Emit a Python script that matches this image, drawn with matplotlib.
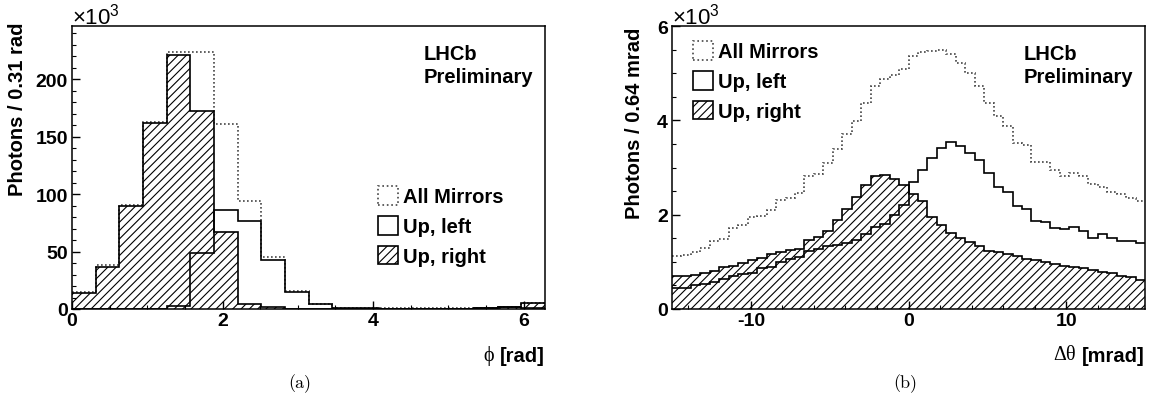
import numpy as np
import matplotlib
matplotlib.use('Agg')
import matplotlib.pyplot as plt
from matplotlib.patches import Patch
from matplotlib.ticker import MultipleLocator

# ---------------- data ----------------
# (a) phi distribution, 20 bins over [0, 2pi], units of 10^3 photons
phi_all = [14.5, 38, 90.5, 162.5, 224, 224, 161, 94, 45.6, 16,
           4.3, 1.2, 0.6, 0.5, 0.5, 0.6, 0.8, 1.0, 2.0, 5.2]
phi_up_left = [0, 0, 0, 0, 2.5, 49, 86, 77, 43, 15,
               4, 1, 0.5, 0.3, 0.3, 0.3, 0.3, 0.5, 1.5, 1.0]
phi_up_right = [13.5, 37, 90, 162, 221, 172, 67, 4.5, 1.5, 0.3,
                0, 0, 0, 0, 0, 0, 0.3, 0.8, 1.5, 5.0]

# (b) delta-theta distribution, 50 bins over [-15, 15] mrad, units of 10^3
dth_all = [1.12, 1.15, 1.21, 1.29, 1.44, 1.49, 1.72, 1.78, 1.95, 1.98,
           2.10, 2.31, 2.36, 2.45, 2.82, 2.86, 3.10, 3.40, 3.70, 3.98,
           4.37, 4.72, 4.87, 4.97, 5.08, 5.37, 5.44, 5.47, 5.49, 5.40,
           5.22, 5.01, 4.73, 4.37, 4.09, 3.87, 3.52, 3.47, 3.12, 3.11,
           2.94, 2.81, 2.89, 2.83, 2.65, 2.59, 2.49, 2.43, 2.35, 2.29]
dth_up_left = [0.44, 0.45, 0.50, 0.53, 0.58, 0.64, 0.70, 0.74, 0.76, 0.86,
               0.90, 1.00, 1.05, 1.10, 1.22, 1.28, 1.33, 1.35, 1.39, 1.46,
               1.60, 1.74, 1.81, 1.99, 2.20, 2.70, 2.95, 3.20, 3.41, 3.54,
               3.45, 3.30, 3.16, 2.89, 2.59, 2.47, 2.18, 2.11, 1.86, 1.85,
               1.72, 1.69, 1.74, 1.66, 1.51, 1.58, 1.50, 1.44, 1.44, 1.39]
dth_up_right = [0.69, 0.70, 0.72, 0.77, 0.81, 0.88, 0.92, 0.97, 1.03, 1.08,
                1.16, 1.21, 1.26, 1.28, 1.46, 1.52, 1.65, 1.88, 2.13, 2.38,
                2.63, 2.81, 2.84, 2.76, 2.63, 2.44, 2.28, 1.95, 1.78, 1.61,
                1.50, 1.41, 1.33, 1.24, 1.21, 1.16, 1.13, 1.07, 1.04, 1.00,
                0.96, 0.91, 0.88, 0.87, 0.83, 0.79, 0.76, 0.71, 0.67, 0.62]

legend_labels = ['All Mirrors', 'Up, left', 'Up, right']

phi_edges = np.linspace(0, 2 * np.pi, len(phi_all) + 1)
dth_edges = np.linspace(-15, 15, len(dth_all) + 1)

# ---------------- style ----------------
SANS = 'Liberation Sans'
plt.rcParams['font.family'] = SANS
plt.rcParams['axes.unicode_minus'] = False
plt.rcParams['mathtext.fontset'] = 'custom'
plt.rcParams['mathtext.rm'] = SANS
plt.rcParams['mathtext.bf'] = SANS + ':bold'
plt.rcParams['hatch.linewidth'] = 0.8
plt.rcParams['hatch.color'] = 'black'

W, H = 1150, 414
fig = plt.figure(figsize=(W / 100, H / 100), dpi=100)


def axrect(x0, x1, y0, y1):
    return [x0 / W, 1 - y1 / H, (x1 - x0) / W, (y1 - y0) / H]


ax1 = fig.add_axes(axrect(72, 545, 27, 310))
ax2 = fig.add_axes(axrect(672, 1145, 27, 310))

DOT = (0, (1, 1.4))
LW = 1.2


def draw(ax, edges, allv, left, right):
    ax.stairs(allv, edges, color='#444444', linestyle=DOT, linewidth=LW, baseline=None)
    ax.stairs(right, edges, fill=True, facecolor='none', edgecolor='black',
              hatch='////', linewidth=0)
    ax.stairs(right, edges, color='black', linewidth=LW, baseline=None)
    ax.stairs(left, edges, color='black', linewidth=LW, baseline=None)


draw(ax1, phi_edges, phi_all, phi_up_left, phi_up_right)
draw(ax2, dth_edges, dth_all, dth_up_left, dth_up_right)

ax1.set_xlim(0, 2 * np.pi)
ax1.set_ylim(0, 246.4)
ax2.set_xlim(-15, 15)
ax2.set_ylim(0, 6)

ax1.xaxis.set_major_locator(MultipleLocator(2))
ax1.xaxis.set_minor_locator(MultipleLocator(0.5))
ax1.yaxis.set_major_locator(MultipleLocator(50))
ax1.yaxis.set_minor_locator(MultipleLocator(10))
ax2.xaxis.set_major_locator(MultipleLocator(10))
ax2.xaxis.set_minor_locator(MultipleLocator(2))
ax2.yaxis.set_major_locator(MultipleLocator(2))
ax2.yaxis.set_minor_locator(MultipleLocator(0.5))

for ax in (ax1, ax2):
    for s in ax.spines.values():
        s.set_linewidth(1.1)
    ax.tick_params(which='major', direction='in', length=6, width=1.0,
                   top=False, right=False, labelsize=14, pad=3)
    ax.tick_params(which='minor', direction='in', length=3, width=0.8,
                   top=False, right=False)
    ax.tick_params(axis='x', which='major', pad=2)
    for lab in ax.get_xticklabels() + ax.get_yticklabels():
        lab.set_fontweight('bold')

# legends
def legend(ax, anchor):
    handles = [
        Patch(facecolor='none', edgecolor='#444444', linestyle=':', linewidth=1.2,
              label=legend_labels[0]),
        Patch(facecolor='none', edgecolor='black', linewidth=1.2, label=legend_labels[1]),
        Patch(facecolor='none', edgecolor='black', hatch='////', linewidth=1.2,
              label=legend_labels[2]),
    ]
    ax.legend(handles=handles, loc='upper left', bbox_to_anchor=anchor,
              frameon=False, prop={'weight': 'bold', 'size': 14.5},
              handlelength=1.0, handleheight=1.05, handletextpad=0.25,
              labelspacing=0.48, borderpad=0, borderaxespad=0)


legend(ax1, (0.647, 0.4346))
legend(ax2, (0.0444, 0.947))

for ax in (ax1, ax2):
    ax.text(0.744, 0.936, 'LHCb', transform=ax.transAxes, ha='left', va='top',
            fontsize=14.5, fontweight='bold')
    ax.text(0.744, 0.855, 'Preliminary', transform=ax.transAxes, ha='left', va='top',
            fontsize=14.5, fontweight='bold')

# y titles
fig.text(18 / W, 1 - 23 / H, 'Photons / 0.31 rad', rotation=90, ha='center', va='top',
         fontsize=14.5, fontweight='bold')
fig.text(634 / W, 1 - 28 / H, 'Photons / 0.64 mrad', rotation=90, ha='center', va='top',
         fontsize=14.5, fontweight='bold')

# x10^3 exponents
for xp in (72, 672):
    fig.text(xp / W, 1 - 24 / H, r'$\times$10$^{\mathregular{3}}$', ha='left',
             va='baseline', fontsize=16)

# x titles: bold unit part + thin greek symbol
t1 = fig.text(545 / W, 1 - 356 / H, '[rad]', ha='right', va='center',
              fontsize=14.5, fontweight='bold')
t2 = fig.text(1145 / W, 1 - 356 / H, '[mrad]', ha='right', va='center',
              fontsize=14.5, fontweight='bold')
fig.canvas.draw()
r = fig.canvas.get_renderer()
for t, g in ((t1, 'ϕ'), (t2, 'Δθ')):
    bb = t.get_window_extent(r)
    fig.text((bb.x0 - 6) / W, 1 - 356 / H, g, ha='right', va='center',
             fontsize=14.5, family=['Liberation Serif', 'DejaVu Serif'])

# captions
fig.text(300 / W, 1 - 384 / H, '(a)', ha='center', va='center', fontsize=13,
         family='cmr10')
fig.text(905 / W, 1 - 384 / H, '(b)', ha='center', va='center', fontsize=13,
         family='cmr10')

fig.savefig('out.png', dpi=100)
